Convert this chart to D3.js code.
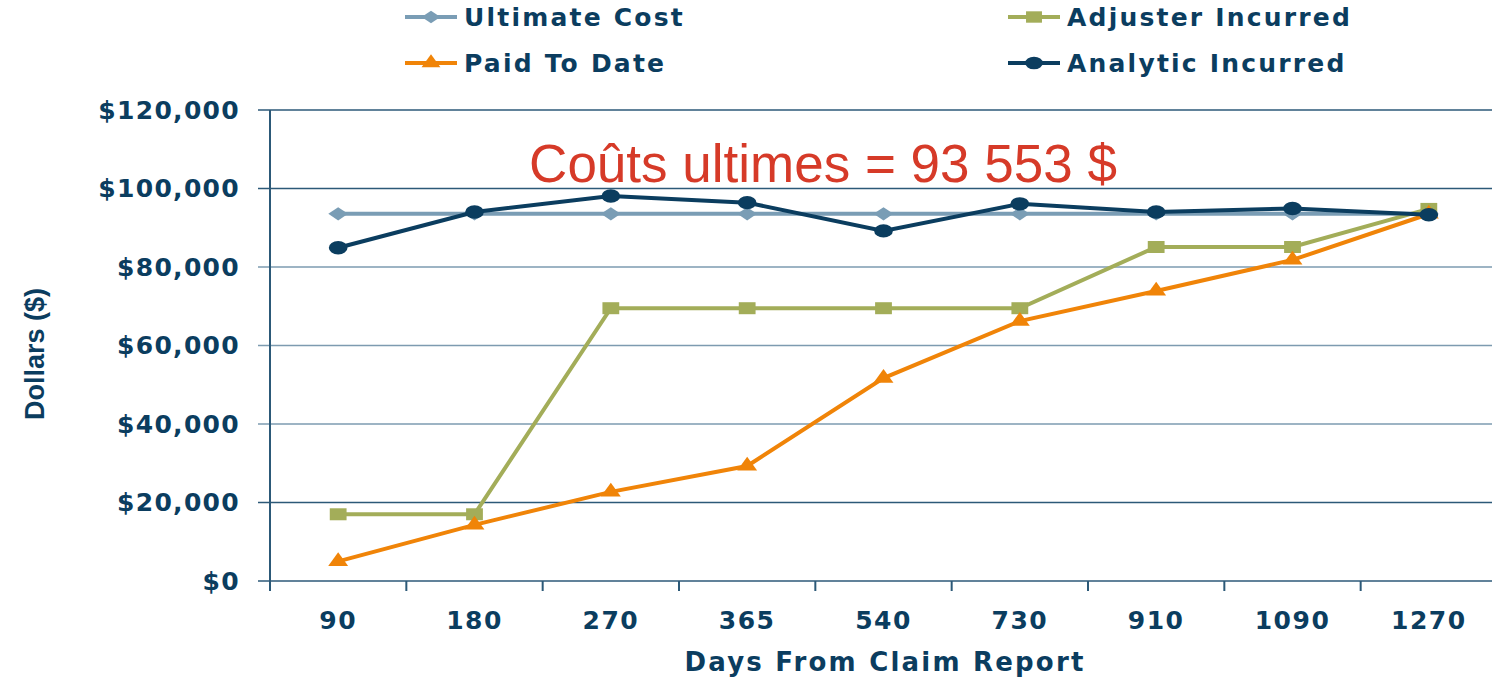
<!DOCTYPE html>
<html lang="en">
<head>
<meta charset="utf-8">
<title>Ultimate cost development</title>
<script src="https://d3js.org/d3.v7.min.js"></script>
<style>
  body { margin: 0; background: #fff; }
  text { font-family: "DejaVu Sans", Verdana, sans-serif; }
</style>
</head>
<body>
<script>
// data
var days = ["90", "180", "270", "365", "540", "730", "910", "1090", "1270"];
var ultimateCost     = [93553, 93553, 93553, 93553, 93553, 93553, 93553, 93553, 93553];
var adjusterIncurred = [17000, 17000, 69500, 69500, 69500, 69500, 85100, 85100, 94800];
var paidToDate       = [5000, 14300, 22700, 29300, 51700, 66200, 73900, 81800, 93500];
var analyticIncurred = [84900, 94000, 98100, 96400, 89200, 96100, 94000, 94900, 93300];
var yTicks = [0, 20000, 40000, 60000, 80000, 100000, 120000];

var w = 1492, h = 679;
var navy = "#0b3d5f";
var boldFont = "'DejaVu Sans', Verdana, sans-serif";

var svg = d3.select("body").append("svg")
  .attr("width", w).attr("height", h);

var x = d3.scaleBand().domain(days).range([270, 1497]);
var y = d3.scaleLinear().domain([0, 120000]).range([581, 110]);

// gridlines
svg.append("g").selectAll("line")
  .data(yTicks)
  .join("line")
  .attr("x1", 258).attr("x2", 1497)
  .attr("y1", d => y(d)).attr("y2", d => y(d))
  .attr("stroke", (d, i) => (i == 2 || i == 3 || i == 4) ? "#7d9bb0" : "#2c5978")
  .attr("stroke-width", 1.5);

// y axis
var yAxis = d3.axisLeft(y).tickValues(yTicks).tickSize(0).tickPadding(30)
  .tickFormat(d => "$" + d3.format(",")(d));
var gy = svg.append("g").attr("transform", "translate(270,0)").call(yAxis);
gy.select(".domain").remove();
gy.selectAll("text").attr("fill", navy).attr("font-size", 25).attr("font-weight", "bold")
  .attr("font-family", boldFont).attr("letter-spacing", 1.3);
svg.append("line").attr("x1", 270).attr("x2", 270).attr("y1", 110).attr("y2", 591)
  .attr("stroke", "#2c5978").attr("stroke-width", 2);

// x axis
var xAxis = d3.axisBottom(x).tickSize(0).tickPadding(30);
var gx = svg.append("g").attr("transform", "translate(0,581)").call(xAxis);
gx.select(".domain").remove();
gx.selectAll("text").attr("fill", navy).attr("font-size", 25).attr("font-weight", "bold")
  .attr("font-family", boldFont).attr("letter-spacing", 1.5);
// tick marks between categories
svg.append("g").selectAll("line")
  .data(days)
  .join("line")
  .attr("x1", d => x(d)).attr("x2", d => x(d))
  .attr("y1", 581).attr("y2", 591)
  .attr("stroke", "#2c5978").attr("stroke-width", 2);

// axis titles
svg.append("text")
  .attr("x", 885).attr("y", 671)
  .attr("text-anchor", "middle")
  .attr("fill", navy).attr("font-size", 26).attr("font-weight", "bold").attr("letter-spacing", 2.2)
  .text("Days From Claim Report");
svg.append("text")
  .attr("transform", "translate(44,354) rotate(-90)")
  .attr("text-anchor", "middle")
  .attr("fill", navy).attr("font-size", 27).attr("font-weight", "bold")
  .style("font-family", "'Liberation Sans', Arial, sans-serif")
  .text("Dollars ($)");

// red annotation
svg.append("text")
  .attr("x", 823).attr("y", 182)
  .attr("text-anchor", "middle")
  .attr("fill", "#d63a28").attr("font-size", 53)
  .style("font-family", "'Liberation Sans', Arial, sans-serif")
  .text("Coûts ultimes = 93 553 $");

var cx = d => x(d) + x.bandwidth() / 2;

// markers look stretched sideways in the original
var series = [
  { name: "Ultimate Cost", values: ultimateCost, color: "#7a9db5", sym: d3.symbolDiamond, size: 50, sx: 2.6 },
  { name: "Adjuster Incurred", values: adjusterIncurred, color: "#a3ad59", sym: d3.symbolSquare, size: 144, sx: 1.4 },
  { name: "Paid To Date", values: paidToDate, color: "#f08408", sym: d3.symbolTriangle, size: 110, sx: 1.25 },
  { name: "Analytic Incurred", values: analyticIncurred, color: "#0b3d5f", sym: d3.symbolCircle, size: 140, sx: 1.4 }
];

var line = d3.line().x((d, i) => cx(days[i])).y(d => y(d));

series.forEach(function(s) {
  var g = svg.append("g");
  g.append("path")
    .attr("d", line(s.values))
    .attr("fill", "none")
    .attr("stroke", s.color)
    .attr("stroke-width", 4);
  g.selectAll("path.pt")
    .data(s.values)
    .join("path")
    .attr("class", "pt")
    .attr("transform", (d, i) => "translate(" + cx(days[i]) + "," + y(d) + ") scale(" + s.sx + ",1)")
    .attr("d", d3.symbol().type(s.sym).size(s.size))
    .attr("fill", s.color);
});

// legend
var legendPos = [
  { s: series[0], x: 405, y: 17 },
  { s: series[1], x: 1008, y: 17 },
  { s: series[2], x: 405, y: 63 },
  { s: series[3], x: 1008, y: 63 }
];
legendPos.forEach(function(l) {
  var g = svg.append("g").attr("transform", "translate(" + l.x + "," + l.y + ")");
  g.append("line").attr("x1", 0).attr("x2", 52).attr("y1", 0).attr("y2", 0)
    .attr("stroke", l.s.color).attr("stroke-width", 4);
  g.append("path").attr("transform", "translate(26,0) scale(" + l.s.sx + ",1)")
    .attr("d", d3.symbol().type(l.s.sym).size(l.s.size * 0.9))
    .attr("fill", l.s.color);
  g.append("text").attr("x", 59).attr("y", 9)
    .attr("fill", navy).attr("font-size", 25).attr("font-weight", "bold").attr("letter-spacing", 2.2)
    .text(l.s.name);
});
</script>
</body>
</html>
